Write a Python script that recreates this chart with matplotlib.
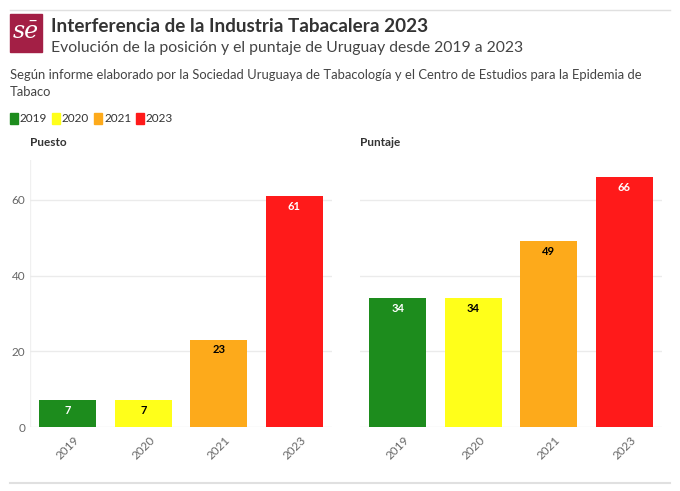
import matplotlib.pyplot as plt
from matplotlib.patches import Rectangle

plt.rcParams['font.family'] = ['Lato', 'DejaVu Sans']

years = ['2019', '2020', '2021', '2023']
puesto = [7, 7, 23, 61]
puntaje = [34, 34, 49, 66]
colors = ['#1d8c1d', '#ffff1a', '#fdaa1b', '#ff1a1a']
label_colors = ['white', 'black', 'black', 'white']

title = 'Interferencia de la Industria Tabacalera 2023'
subtitle = 'Evolución de la posición y el puntaje de Uruguay desde 2019 a 2023'
note = ('Según informe elaborado por la Sociedad Uruguaya de Tabacología y el Centro de Estudios para la Epidemia de\n'
        'Tabaco')

W, H = 680, 491
fig = plt.figure(figsize=(W / 100, H / 100), dpi=100)

def fx(px):
    return px / W

def fy(py):
    return 1 - py / H

# top / bottom rules
fig.add_artist(plt.Line2D([fx(10), fx(670)], [fy(10), fy(10)], color='#e0e0e0', lw=1))
fig.add_artist(plt.Line2D([fx(10), fx(670)], [fy(483), fy(483)], color='#e0e0e0', lw=1.5))

# logo
fig.add_artist(Rectangle((fx(10), fy(52)), fx(32), 38 / H, color='#a31f45', transform=fig.transFigure))
fig.text(fx(26), fy(31), 'sē', color='white', fontsize=17, style='italic', family='DejaVu Serif',
         ha='center', va='center')

fig.text(fx(51), fy(27), title, fontsize=13.6, fontweight='bold', color='#333333', va='center')
fig.text(fx(51), fy(48), subtitle, fontsize=11.3, color='#444444', va='center')
fig.text(fx(10), fy(69), note, fontsize=9.4, color='#444444', va='top', linespacing=1.5)

# legend
lx = 10
for yr, c in zip(years, colors):
    fig.add_artist(Rectangle((fx(lx), fy(124)), fx(8), 11 / H, color=c, transform=fig.transFigure))
    fig.text(fx(lx + 10), fy(118.5), yr, fontsize=8.5, color='#333333', va='center')
    lx += 42

axes = [fig.add_axes([fx(30), fy(427), fx(302), (427 - 160) / H]),
        fig.add_axes([fx(360), fy(427), fx(302), (427 - 160) / H])]
panels = [('Puesto', puesto), ('Puntaje', puntaje)]

for i, (ax, (name, vals)) in enumerate(zip(axes, panels)):
    bars = ax.bar(years, vals, color=colors, width=0.75, zorder=3)
    for b, v, lc in zip(bars, vals, label_colors):
        ax.text(b.get_x() + b.get_width() / 2, v - 1.2, str(v), ha='center', va='top',
                fontsize=8, fontweight='bold', color=lc, zorder=4)
    ax.set_ylim(0, 70.5)
    ax.set_xlim(-0.5, 3.5)
    ax.set_yticks([0, 20, 40, 60])
    ax.grid(axis='y', color='#ebebeb', lw=1, zorder=0)
    for s in ax.spines.values():
        s.set_visible(False)
    ax.tick_params(axis='both', length=0, colors='#666666', labelsize=8.5)
    ax.tick_params(axis='x', pad=5)
    for t in ax.get_xticklabels():
        t.set_rotation(45)
    if i == 1:
        ax.set_yticklabels([])
    else:
        ax.axvline(-0.5, color='#f0f0f0', lw=1, zorder=0)
    ax.text(0, 1.065, name, transform=ax.transAxes, fontsize=8.5, fontweight='bold', color='#333333',
            ha='left', va='center')

fig.savefig('out.png', dpi=100)
